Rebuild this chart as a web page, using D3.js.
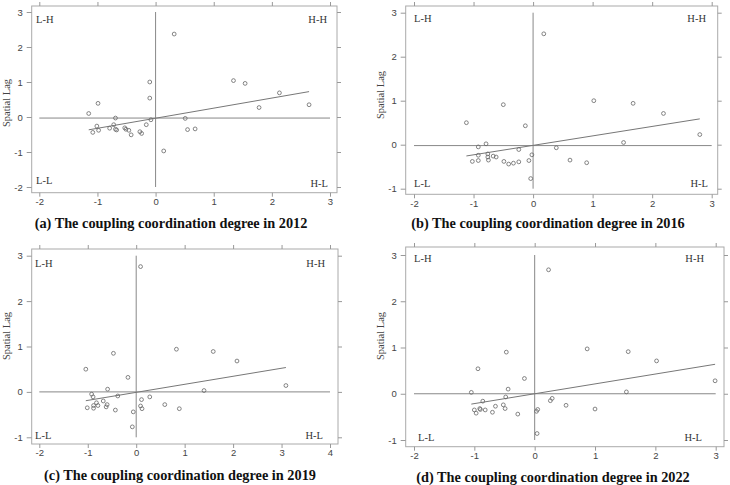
<!DOCTYPE html>
<html>
<head>
<meta charset="utf-8">
<script src="https://cdn.jsdelivr.net/npm/d3@7"></script>
<style>
  body { margin: 0; background: #fff; }
  .tick text { font-family: "Liberation Sans", Arial, sans-serif; font-size: 9.5px; fill: #444; }
  .tick line { stroke: #999; }
  .quad { font-family: "Liberation Serif", "Times New Roman", serif; font-size: 10.5px; fill: #333; }
  .ylab { font-family: "Liberation Serif", "Times New Roman", serif; font-size: 10.5px; fill: #444; }
  .title { font-family: "Liberation Serif", "Times New Roman", serif; font-size: 14.3px; font-weight: bold; fill: #111; }
</style>
</head>
<body>
<div class="chart"></div>
<script>
// Moran scatter data (x = standardised value, y = spatial lag)
var x2012 = [0.32, -0.10, -0.10, -0.99, -1.15, -0.69, -1.01, -1.08, -0.98, -0.79, -0.72, -0.69, -0.67, -0.53, -0.51,
             -0.46, -0.42, -0.27, -0.24, -0.16, -0.08, 0.14, 0.51, 0.55, 0.68, 1.34, 1.54, 1.78, 2.13, 2.64];
var y2012 = [2.37, 1.00, 0.54, 0.39, 0.10, -0.03, -0.26, -0.44, -0.38, -0.32, -0.22, -0.35, -0.37, -0.31, -0.35,
             -0.38, -0.51, -0.42, -0.47, -0.22, -0.08, -0.97, -0.04, -0.36, -0.34, 1.04, 0.96, 0.27, 0.69, 0.35];

var x2016 = [0.18, 1.02, 1.68, 2.19, 2.80, 1.52, -0.50, -1.12, -0.13, -0.92, -0.79, -0.92, -0.76, -0.76, -0.67,
             -0.62, -0.92, -1.02, -0.75, -0.49, -0.41, -0.33, -0.24, -0.24, -0.07, -0.02, -0.04, 0.39, 0.62, 0.90];
var y2016 = [2.52, 1.00, 0.94, 0.71, 0.23, 0.05, 0.91, 0.50, 0.43, -0.05, 0.02, -0.24, -0.21, -0.28, -0.26,
             -0.28, -0.36, -0.38, -0.35, -0.38, -0.44, -0.42, -0.39, -0.11, -0.36, -0.23, -0.77, -0.07, -0.35, -0.41];

var x2019 = [0.09, 0.83, 1.59, 2.08, 3.09, 1.40, -0.47, -1.04, -0.17, -0.59, -0.38, -0.92, -0.89, -0.68, -0.82,
             -0.79, -0.88, -0.88, -1.01, -0.60, -0.62, -0.43, -0.06, -0.08, 0.11, 0.28, 0.59, 0.09, 0.12, 0.89];
var y2019 = [2.76, 0.94, 0.89, 0.68, 0.14, 0.03, 0.85, 0.50, 0.32, 0.06, -0.09, -0.05, -0.11, -0.20, -0.24,
             -0.30, -0.30, -0.36, -0.35, -0.28, -0.33, -0.40, -0.44, -0.77, -0.17, -0.11, -0.28, -0.31, -0.37, -0.37];

var x2022 = [0.23, 0.87, 1.55, 2.02, 2.99, 1.52, -0.47, -0.94, -0.17, -0.44, -1.05, -0.48, -0.86, -0.52, -0.49,
             -0.65, -0.82, -0.91, -0.90, -1.00, -0.97, -0.70, -0.28, 0.04, 0.05, 0.03, 0.26, 0.29, 0.52, 1.00];
var y2022 = [2.68, 0.97, 0.91, 0.71, 0.28, 0.04, 0.90, 0.54, 0.33, 0.10, 0.03, -0.07, -0.16, -0.24, -0.32,
             -0.27, -0.35, -0.32, -0.34, -0.35, -0.42, -0.40, -0.44, -0.86, -0.34, -0.38, -0.15, -0.10, -0.25, -0.33];

var xValues = [x2012, x2016, x2019, x2022];
var yValues = [y2012, y2016, y2019, y2022];

// fitted line (slope, intercept) and mean reference lines
var fitSlope = [0.288, 0.215, 0.177, 0.213];
var fitIntercept = [-0.035, -0.015, -0.01, 0.0];
var meanLag = [-0.03, -0.02, 0, 0];

var xTicks = [[-2, -1, 0, 1, 2, 3], [-2, -1, 0, 1, 2, 3], [-2, -1, 0, 1, 2, 3, 4], [-2, -1, 0, 1, 2, 3]];
var yTicks = [[-2, -1, 0, 1, 2, 3], [-1, 0, 1, 2, 3], [-1, 0, 1, 2, 3], [-1, 0, 1, 2, 3]];

var titles = [
  "(a) The coupling coordination degree in 2012",
  "(b) The coupling coordination degree in 2016",
  "(c) The coupling coordination degree in 2019",
  "(d) The coupling coordination degree in 2022"
];

// pixel layout of each panel (page coordinates)
var layout = [
  { xr: [39.3, 330], yr: [187, 12], frame: [31.7, 6, 337, 192.7], ylab: [6, 103], title: [171, 228],
    quad: { lh: [36, 23], hh: [327, 23], ll: [36, 184], hl: [328, 187] } },
  { xr: [414, 711.7], yr: [188.7, 12.7], frame: [405.7, 6, 717.7, 194.3], ylab: [380, 95], title: [548, 228],
    quad: { lh: [414, 22], hh: [706, 22], ll: [414, 187], hl: [708, 187] } },
  { xr: [39.3, 330], yr: [437.3, 255.7], frame: [31.7, 249, 338, 444], ylab: [6, 336], title: [180, 480],
    quad: { lh: [35, 267], hh: [325, 267], ll: [35, 439], hl: [323, 439] } },
  { xr: [414, 715.7], yr: [440, 255], frame: [405.7, 247, 724, 446.7], ylab: [380, 336], title: [553, 482],
    quad: { lh: [414, 262], hh: [704, 262], ll: [418, 441], hl: [702, 441] } }
];

var svg = d3.select(".chart")
  .append("svg")
  .attr("width", 730)
  .attr("height", 485);

layout.forEach(function(p, i) {
  var xs = xTicks[i], ys = yTicks[i];

  var xScale = d3.scaleLinear()
    .domain([xs[0], xs[xs.length - 1]])
    .range(p.xr);
  var yScale = d3.scaleLinear()
    .domain([ys[0], ys[ys.length - 1]])
    .range(p.yr);

  var g = svg.append("g");
  var f = p.frame;

  // frame
  g.append("rect")
    .attr("x", f[0]).attr("y", f[1])
    .attr("width", f[2] - f[0]).attr("height", f[3] - f[1])
    .attr("fill", "none")
    .attr("stroke", "#aaa")
    .attr("stroke-width", 1);

  // axes on all four sides, labels only bottom and left
  var fmt = function(d) { return String(d); };
  var axB = g.append("g").attr("transform", `translate(0, ${f[3]})`)
    .call(d3.axisBottom(xScale).tickValues(xs).tickFormat(fmt).tickSize(4).tickPadding(1.5));
  var axL = g.append("g").attr("transform", `translate(${f[0]}, 0)`)
    .call(d3.axisLeft(yScale).tickValues(ys).tickFormat(fmt).tickSize(5).tickPadding(4));
  var axT = g.append("g").attr("transform", `translate(0, ${f[1]})`)
    .call(d3.axisTop(xScale).tickValues(xs).tickFormat("").tickSize(4));
  var axR = g.append("g").attr("transform", `translate(${f[2]}, 0)`)
    .call(d3.axisRight(yScale).tickValues(ys).tickFormat("").tickSize(4));
  [axB, axL, axT, axR].forEach(function(a) { a.select(".domain").remove(); });

  // reference lines
  g.append("line")
    .attr("x1", xScale(xs[0])).attr("x2", xScale(xs[xs.length - 1]))
    .attr("y1", yScale(meanLag[i])).attr("y2", yScale(meanLag[i]))
    .attr("stroke", "#888").attr("stroke-width", 1);
  g.append("line")
    .attr("x1", xScale(0)).attr("x2", xScale(0))
    .attr("y1", yScale(ys[0])).attr("y2", yScale(ys[ys.length - 1]))
    .attr("stroke", "#888").attr("stroke-width", 1);

  // regression line over the data range
  var ext = d3.extent(xValues[i]);
  g.append("line")
    .attr("x1", xScale(ext[0])).attr("y1", yScale(fitIntercept[i] + fitSlope[i] * ext[0]))
    .attr("x2", xScale(ext[1])).attr("y2", yScale(fitIntercept[i] + fitSlope[i] * ext[1]))
    .attr("stroke", "#777").attr("stroke-width", 1);

  // points
  g.selectAll("circle")
    .data(xValues[i])
    .enter()
    .append("circle")
    .attr("cx", d => xScale(d))
    .attr("cy", (d, j) => yScale(yValues[i][j]))
    .attr("r", 1.9)
    .attr("fill", "none")
    .attr("stroke", "#666")
    .attr("stroke-width", 0.8);

  // quadrant labels
  g.append("text").attr("class", "quad").attr("x", p.quad.lh[0]).attr("y", p.quad.lh[1]).text("L-H");
  g.append("text").attr("class", "quad").attr("x", p.quad.hh[0]).attr("y", p.quad.hh[1])
    .attr("text-anchor", "end").text("H-H");
  g.append("text").attr("class", "quad").attr("x", p.quad.ll[0]).attr("y", p.quad.ll[1]).text("L-L");
  g.append("text").attr("class", "quad").attr("x", p.quad.hl[0]).attr("y", p.quad.hl[1])
    .attr("text-anchor", "end").text("H-L");

  // y axis title
  g.append("text")
    .attr("class", "ylab")
    .attr("transform", `translate(${p.ylab[0]}, ${p.ylab[1]}) rotate(-90)`)
    .attr("text-anchor", "middle")
    .attr("dy", "0.35em")
    .text("Spatial Lag");

  // panel caption
  g.append("text")
    .attr("class", "title")
    .attr("x", p.title[0]).attr("y", p.title[1])
    .attr("text-anchor", "middle")
    .text(titles[i]);
});
</script>
</body>
</html>
